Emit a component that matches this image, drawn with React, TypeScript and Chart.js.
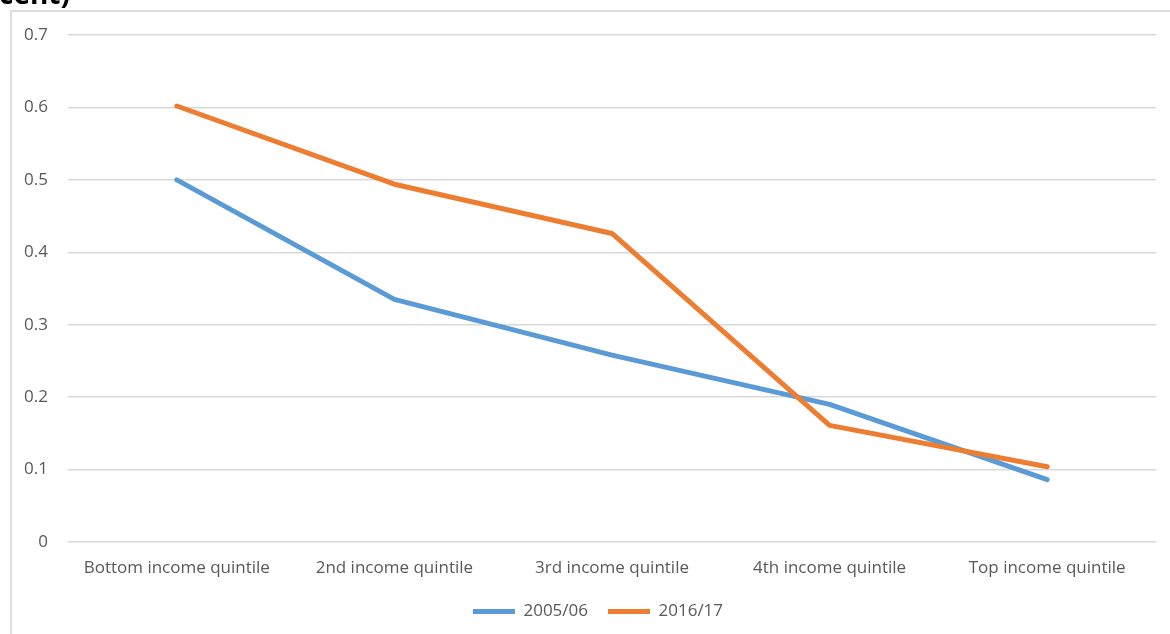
import React, { useEffect, useRef } from "react";
import { Chart, registerables } from "chart.js";

Chart.register(...registerables);

// Share of households, by income quintile
const categories = [
  "Bottom income quintile",
  "2nd income quintile",
  "3rd income quintile",
  "4th income quintile",
  "Top income quintile",
];
const seriesNames = ["2005/06", "2016/17"];
const values2005 = [0.5, 0.335, 0.258, 0.19, 0.086];
const values2016 = [0.602, 0.494, 0.426, 0.161, 0.104];
const yTickLabels = ["0", "0.1", "0.2", "0.3", "0.4", "0.5", "0.6", "0.7"];
const headingFragment = "cent)";

const BLUE = "#5B9BD5";
const ORANGE = "#ED7D31";
const GRID = "#d9d9d9";
const TEXT = "#595959";
const FONT = "'Open Sans', 'Noto Sans', sans-serif";
const LINE_WIDTH = 5;

// The legend sits centred on the whole chart frame rather than the canvas,
// so nudge it sideways once the layout is known.
const legendOffset = {
  id: "legendOffset",
  afterLayout(chart: any) {
    const legend = chart.legend;
    if (legend) {
      legend.left += 20;
      legend.right += 20;
    }
  },
};

export default function App() {
  const canvasRef = useRef<HTMLCanvasElement | null>(null);

  useEffect(() => {
    const canvas = canvasRef.current;
    if (!canvas) return;
    const chart = new Chart(canvas, {
      type: "line",
      data: {
        labels: categories,
        datasets: [
          {
            label: seriesNames[0],
            data: values2005,
            borderColor: BLUE,
            backgroundColor: BLUE,
            borderWidth: LINE_WIDTH,
            pointRadius: 0,
            pointHoverRadius: 0,
            tension: 0,
            borderCapStyle: "round",
            borderJoinStyle: "round",
            order: 1,
          },
          {
            label: seriesNames[1],
            data: values2016,
            borderColor: ORANGE,
            backgroundColor: ORANGE,
            borderWidth: LINE_WIDTH,
            pointRadius: 0,
            pointHoverRadius: 0,
            tension: 0,
            borderCapStyle: "round",
            borderJoinStyle: "round",
            order: 0,
          },
        ],
      },
      options: {
        responsive: false,
        maintainAspectRatio: false,
        animation: false,
        layout: { padding: { left: 0, right: 14, top: 35, bottom: 4 } },
        plugins: {
          tooltip: { enabled: false },
          legend: {
            position: "bottom",
            labels: {
              sort: (a: any, b: any) => a.datasetIndex - b.datasetIndex,
              usePointStyle: true,
              pointStyle: "line",
              pointStyleWidth: 42,
              padding: 20,
              color: TEXT,
              font: { family: FONT, size: 17 },
            },
          },
        },
        scales: {
          x: {
            offset: true,
            grid: { display: false, drawTicks: false },
            border: { display: false },
            ticks: {
              color: TEXT,
              font: { family: FONT, size: 17 },
              padding: 16,
              maxRotation: 0,
              autoSkip: false,
            },
            afterFit: (scale: any) => {
              scale.height = 41;
            },
          },
          y: {
            min: 0,
            max: 0.7,
            grid: { color: GRID, lineWidth: 1.5, drawTicks: false },
            border: { display: false },
            ticks: {
              stepSize: 0.1,
              padding: 20,
              color: TEXT,
              font: { family: FONT, size: 17 },
              callback: (value: any) => yTickLabels[Math.round(Number(value) * 10)],
            },
            afterFit: (scale: any) => {
              scale.width = 68;
            },
          },
        },
      },
      plugins: [legendOffset],
    });
    return () => chart.destroy();
  }, []);

  return (
    <div
      style={{
        position: "fixed",
        left: 0,
        top: 0,
        width: 1170,
        height: 634,
        overflow: "hidden",
        background: "#ffffff",
      }}
    >
      <div
        style={{
          position: "absolute",
          left: 10,
          top: 10,
          width: 2000,
          height: 2000,
          borderLeft: "2px solid #dedede",
          borderTop: "2px solid #dedede",
        }}
      />
      <canvas
        ref={canvasRef}
        width={1170}
        height={634}
        style={{ position: "absolute", left: 0, top: 0, width: 1170, height: 634 }}
      />
      <span
        style={{
          position: "absolute",
          left: -1,
          top: -21,
          fontFamily: FONT,
          fontWeight: 700,
          fontSize: 28,
          lineHeight: "28px",
          color: "#000000",
          whiteSpace: "nowrap",
        }}
      >
        {headingFragment}
      </span>
    </div>
  );
}
